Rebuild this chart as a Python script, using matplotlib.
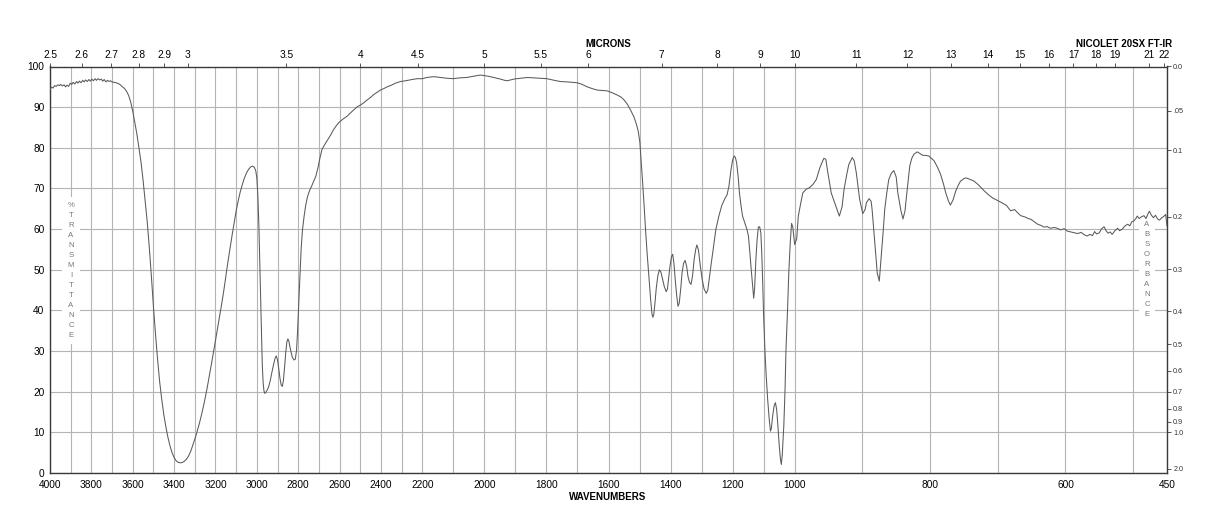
import numpy as np
import matplotlib
matplotlib.use('Agg')
import matplotlib.pyplot as plt

plt.rcParams['font.family'] = ['Liberation Sans', 'DejaVu Sans']

# spectrum: wavenumber (cm-1) / % transmittance
wavenumber = [
    4000, 3992, 3985, 3978, 3970, 3962, 3955, 3948, 3940, 3932, 3925, 3918, 3910, 3902, 3895, 3888,
    3880, 3872, 3865, 3858, 3850, 3842, 3835, 3828, 3820, 3812, 3805, 3798, 3790, 3782, 3775, 3768,
    3760, 3752, 3745, 3738, 3730, 3722, 3715, 3708, 3700, 3690, 3680, 3670, 3660, 3650, 3640, 3630,
    3620, 3610, 3600, 3590, 3580, 3570, 3560, 3550, 3540, 3530, 3520, 3510, 3500, 3490, 3480, 3470,
    3460, 3450, 3440, 3430, 3420, 3410, 3400, 3390, 3380, 3370, 3360, 3350, 3340, 3330, 3320, 3310,
    3300, 3290, 3280, 3270, 3260, 3250, 3240, 3230, 3220, 3210, 3200, 3190, 3180, 3170, 3160, 3150,
    3140, 3130, 3120, 3110, 3100, 3090, 3080, 3070, 3060, 3050, 3040, 3030, 3020, 3012, 3005, 3000,
    2995, 2990, 2986, 2982, 2978, 2974, 2970, 2966, 2962, 2957, 2950, 2943, 2935, 2928, 2920, 2912,
    2906, 2900, 2894, 2888, 2882, 2877, 2872, 2866, 2860, 2855, 2850, 2845, 2840, 2834, 2828, 2820,
    2814, 2808, 2804, 2798, 2792, 2786, 2780, 2772, 2764, 2755, 2745, 2735, 2725, 2715, 2705, 2695,
    2685, 2672, 2660, 2645, 2630, 2615, 2600, 2580, 2563, 2545, 2530, 2514, 2500, 2485, 2466, 2450,
    2435, 2420, 2403, 2385, 2370, 2350, 2330, 2306, 2280, 2250, 2225, 2200, 2185, 2163, 2140, 2120,
    2100, 2080, 2057, 2035, 2013, 1995, 1981, 1965, 1948, 1935, 1926, 1915, 1905, 1885, 1861, 1840,
    1820, 1798, 1775, 1755, 1730, 1715, 1701, 1685, 1669, 1650, 1636, 1620, 1604, 1590, 1575, 1560,
    1550, 1540, 1529, 1518, 1510, 1504, 1499, 1495, 1490, 1485, 1480, 1475, 1469, 1464, 1460, 1457,
    1454, 1450, 1446, 1441, 1436, 1431, 1426, 1420, 1414, 1410, 1406, 1402, 1397, 1393, 1389, 1385,
    1380, 1376, 1372, 1367, 1363, 1358, 1353, 1348, 1344, 1339, 1334, 1329, 1324, 1319, 1315, 1310,
    1304, 1298, 1292, 1285, 1280, 1275, 1270, 1262, 1254, 1245, 1235, 1225, 1218, 1212, 1205, 1200,
    1195, 1191, 1187, 1182, 1178, 1173, 1168, 1160, 1154, 1149, 1145, 1141, 1136, 1132, 1129, 1125,
    1121, 1117, 1113, 1109, 1106, 1103, 1100, 1096, 1092, 1087, 1082, 1078, 1075, 1071, 1066, 1062,
    1058, 1054, 1050, 1046, 1043, 1040, 1035, 1031, 1028, 1023, 1019, 1014, 1010, 1006, 1002, 1000,
    997, 994.6, 991, 988, 983, 978, 973, 968, 963, 957, 954, 951, 946, 941, 937, 934,
    930, 927, 923, 920, 915, 912, 909, 904, 899.4, 896, 894, 890, 887, 885.6, 881.6, 878,
    875, 872, 869, 867, 864, 861, 857, 853.5, 850, 847.6, 843, 840, 837, 834.8, 830, 827,
    824, 819, 815, 811.6, 806, 802, 798, 794, 789, 784.5, 780, 777, 773, 770, 766, 762,
    758, 755, 750, 747, 742, 735, 728, 720, 714, 708, 700, 693, 687, 681, 675, 670,
    666, 660, 655, 651, 646, 641, 636, 632, 627, 622, 617, 612, 607, 602, 597, 592,
    587, 582, 577, 572, 568, 564, 560, 557, 554, 550, 547, 543, 540, 537, 534, 531,
    527, 523, 520, 516, 512, 508, 505, 502, 499, 496, 494, 491, 488, 484, 481, 478,
    476, 473, 470, 467, 464, 461, 459, 456, 453, 452, 450,
]
transmittance = [
    94.4, 94.9, 94.7, 95.3, 95.1, 95.5, 95.3, 95.6, 95.2, 95.5, 95.0, 95.4, 95.1, 95.9, 95.6, 96.1,
    95.7, 96.3, 95.9, 96.4, 96.0, 96.6, 96.2, 96.7, 96.3, 96.8, 96.4, 96.9, 96.5, 97.0, 96.6, 97.0,
    96.7, 96.9, 96.4, 96.8, 96.2, 96.6, 96.3, 96.5, 96.2, 96.1, 96.0, 95.8, 95.5, 95.0, 94.6, 93.9,
    92.9, 91.3, 89.0, 86.2, 83.4, 80.0, 76.5, 72.0, 67.0, 61.8, 55.5, 48.5, 41.0, 34.2, 28.0, 22.5,
    18.2, 14.4, 11.4, 8.8, 6.7, 5.0, 3.8, 3.0, 2.6, 2.5, 2.6, 2.9, 3.4, 4.2, 5.3, 6.8,
    8.3, 10.0, 11.8, 13.8, 16.0, 18.4, 21.0, 23.8, 26.7, 29.6, 32.6, 35.6, 38.6, 41.6, 44.8, 48.4,
    51.9, 55.2, 58.4, 61.5, 64.5, 67.0, 69.2, 71.0, 72.6, 73.8, 74.7, 75.3, 75.5, 75.2, 74.3, 72.5,
    68.0, 60.5, 52.0, 43.0, 34.0, 27.0, 22.5, 20.3, 19.6, 19.8, 20.4, 21.2, 22.8, 24.6, 26.5, 28.2,
    28.8, 27.8, 25.6, 23.2, 21.6, 21.3, 22.6, 26.0, 29.8, 32.2, 33.0, 32.4, 31.0, 29.6, 28.4, 27.8,
    28.0, 30.2, 34.0, 41.0, 48.5, 55.0, 59.5, 63.0, 65.8, 68.0, 69.5, 70.6, 71.8, 73.0, 75.0, 77.5,
    79.6, 80.8, 81.8, 83.0, 84.4, 85.5, 86.4, 87.2, 87.8, 88.7, 89.4, 90.1, 90.5, 91.0, 91.8, 92.4,
    93.1, 93.6, 94.2, 94.6, 95.0, 95.4, 95.9, 96.3, 96.5, 96.8, 97.0, 97.0, 97.3, 97.5, 97.3, 97.1,
    97.0, 97.2, 97.3, 97.6, 97.9, 97.7, 97.5, 97.2, 96.9, 96.6, 96.5, 96.7, 96.9, 97.1, 97.3, 97.2,
    97.1, 97.0, 96.6, 96.3, 96.2, 96.1, 96.0, 95.6, 95.0, 94.5, 94.2, 94.1, 94.0, 93.6, 93.1, 92.5,
    91.8, 90.8, 89.3, 87.6, 85.8, 84.0, 81.4, 77.0, 71.4, 65.5, 59.1, 53.5, 47.6, 42.5, 39.2, 38.3,
    39.0, 42.0, 45.5, 48.5, 50.0, 49.4, 47.8, 45.8, 44.6, 45.3, 48.0, 50.8, 53.2, 53.8, 51.5, 47.6,
    43.5, 41.0, 41.8, 45.5, 49.2, 51.6, 52.3, 50.8, 48.4, 46.9, 46.4, 48.6, 52.5, 55.0, 56.1, 54.8,
    50.9, 47.6, 45.3, 44.2, 45.0, 48.0, 50.9, 55.5, 59.9, 63.0, 65.8, 67.5, 68.4, 70.5, 74.7, 77.0,
    78.0, 77.6, 76.3, 72.8, 68.9, 65.8, 63.2, 61.4, 60.0, 58.3, 54.8, 50.9, 46.5, 43.0, 45.5, 52.5,
    57.5, 60.5, 60.6, 59.1, 54.0, 46.8, 38.5, 30.4, 24.2, 18.1, 13.2, 10.3, 11.0, 14.0, 16.6, 17.3,
    15.6, 11.6, 7.0, 3.5, 2.1, 4.5, 11.6, 20.5, 30.4, 40.0, 49.2, 57.0, 61.4, 60.5, 57.5, 56.2,
    57.6, 63.2, 66.4, 68.9, 69.8, 70.2, 71.0, 72.2, 75.0, 77.4, 77.2, 73.9, 68.9, 66.5, 64.5, 63.2,
    65.5, 69.8, 73.5, 75.9, 77.6, 76.8, 73.9, 67.3, 63.8, 64.8, 66.5, 67.5, 66.8, 64.8, 56.6, 49.2,
    47.2, 53.5, 60.0, 64.8, 68.8, 72.2, 73.8, 74.4, 72.8, 68.9, 64.5, 62.5, 64.5, 68.1, 75.5, 77.4,
    78.4, 79.0, 78.6, 78.2, 78.1, 78.0, 77.4, 76.8, 75.2, 73.5, 71.0, 69.0, 67.0, 65.9, 67.2, 69.4,
    70.9, 71.8, 72.4, 72.6, 72.3, 71.8, 70.8, 69.4, 68.5, 67.7, 67.0, 66.4, 65.8, 64.5, 64.8, 63.9,
    63.3, 63.0, 62.6, 62.4, 61.8, 61.2, 60.9, 60.5, 60.6, 60.2, 60.4, 60.2, 59.8, 60.1, 59.5, 59.3,
    59.1, 58.9, 59.2, 58.6, 58.3, 58.7, 58.4, 59.4, 58.8, 59.1, 60.0, 60.6, 59.6, 59.0, 59.3, 58.7,
    59.6, 60.2, 59.6, 60.0, 60.8, 61.2, 60.8, 61.8, 62.0, 62.6, 63.2, 62.6, 63.0, 63.3, 62.6, 63.8,
    64.4, 63.4, 62.8, 63.4, 62.5, 62.2, 62.6, 63.0, 63.4, 63.6, 60.8,
]

# axis labels
bottom_ticks = [4000, 3800, 3600, 3400, 3200, 3000, 2800, 2600, 2400, 2200,
                2000, 1800, 1600, 1400, 1200, 1000, 800, 600, 450]
micron_ticks = [2.5, 2.6, 2.7, 2.8, 2.9, 3, 3.5, 4, 4.5, 5, 5.5, 6, 7, 8, 9, 10,
                11, 12, 13, 14, 15, 16, 17, 18, 19, 21, 22]
absorb_ticks = [0.0, 0.05, 0.1, 0.2, 0.3, 0.4, 0.5, 0.6, 0.7, 0.8, 0.9, 1.0, 2.0]
absorb_labels = ['0.0', '.05', '0.1', '0.2', '0.3', '0.4', '0.5', '0.6', '0.7',
                 '0.8', '0.9', '1.0', '2.0']

# chart paper: three equal-width sections with different cm-1 per mm
SEG_WN = [450, 1000, 2200, 4000]
SEG_POS = [0, 1, 2, 3]


def fwd(w):
    return np.interp(w, SEG_WN, SEG_POS)


def inv(p):
    return np.interp(p, SEG_POS, SEG_WN)


W, H = 1218, 528
fig = plt.figure(figsize=(W / 100, H / 100), dpi=100)
x0, x1, y0, y1 = 50, 1167, 66.5, 473
ax = fig.add_axes([x0 / W, 1 - y1 / H, (x1 - x0) / W, (y1 - y0) / H])

ax.set_xscale('function', functions=(fwd, inv))
ax.set_xlim(4000, 450)
ax.set_ylim(0, 100)
ax.set_axisbelow(True)

ax.plot(wavenumber, transmittance, color='#5a5a5a', lw=0.75, zorder=3)

grid_col = '#b4b4b4'
ax.set_xticks(bottom_ticks)
ax.set_xticklabels([str(t) for t in bottom_ticks])
ax.set_xticks(list(range(3900, 450, -100)), minor=True)
ax.set_yticks(range(0, 101, 10))
ax.grid(which='both', axis='x', color=grid_col, lw=0.8)
ax.grid(which='major', axis='y', color=grid_col, lw=0.8)
ax.tick_params(axis='x', which='both', length=0, pad=5, labelsize=7.3)
ax.tick_params(axis='y', length=0, pad=4, labelsize=7.3)

for s in ax.spines.values():
    s.set_color('#3a3a3a')
    s.set_linewidth(1.0)

# micron scale on top
ax_top = ax.twiny()
ax_top.set_xscale('function', functions=(fwd, inv))
ax_top.set_xlim(4000, 450)
ax_top.set_xticks([10000 / m for m in micron_ticks])
ax_top.set_xticklabels([('%g' % m) for m in micron_ticks])
ax_top.xaxis.set_minor_locator(plt.NullLocator())
ax_top.tick_params(axis='x', direction='out', length=3, width=0.6, pad=1.5,
                   labelsize=7.3, color='#3a3a3a')

# absorbance scale on the right
ax_r = ax.twinx()
ax_r.set_ylim(0, 100)
ax_r.set_yticks([100 * 10 ** (-a) for a in absorb_ticks])
ax_r.set_yticklabels(absorb_labels)
ax_r.tick_params(axis='y', direction='out', length=3, width=0.6, pad=1.5,
                 labelsize=5.2, color='#3a3a3a', labelcolor='#333333')
for a in (ax_top, ax_r):
    for s in a.spines.values():
        s.set_visible(False)

fig.text(608 / W, 1 - 44.3 / H, 'MICRONS', ha='center', va='center',
         fontsize=7, fontweight='bold')
fig.text(608 / W, 1 - 496.5 / H, 'WAVENUMBERS', ha='center', va='center',
         fontsize=7, fontweight='bold')
fig.text(1172 / W, 1 - 44.3 / H, 'NICOLET 20SX FT-IR', ha='right', va='center',
         fontsize=7, fontweight='bold')

# stacked axis captions inside the plot
box = dict(boxstyle='square,pad=0.7', facecolor='white', edgecolor='none')
ax.text((71 - x0) / (x1 - x0), 1 - (270.5 - y0) / (y1 - y0),
        '\n'.join('%TRANSMITTANCE'), transform=ax.transAxes,
        ha='center', va='center', fontsize=5.6, color='#777777',
        linespacing=1.6, bbox=box, zorder=2)
ax.text((1147 - x0) / (x1 - x0), 1 - (270 - y0) / (y1 - y0),
        '\n'.join('ABSORBANCE'), transform=ax.transAxes,
        ha='center', va='center', fontsize=5.6, color='#777777',
        linespacing=1.6, bbox=box, zorder=2)

fig.savefig('out.png', dpi=100)
